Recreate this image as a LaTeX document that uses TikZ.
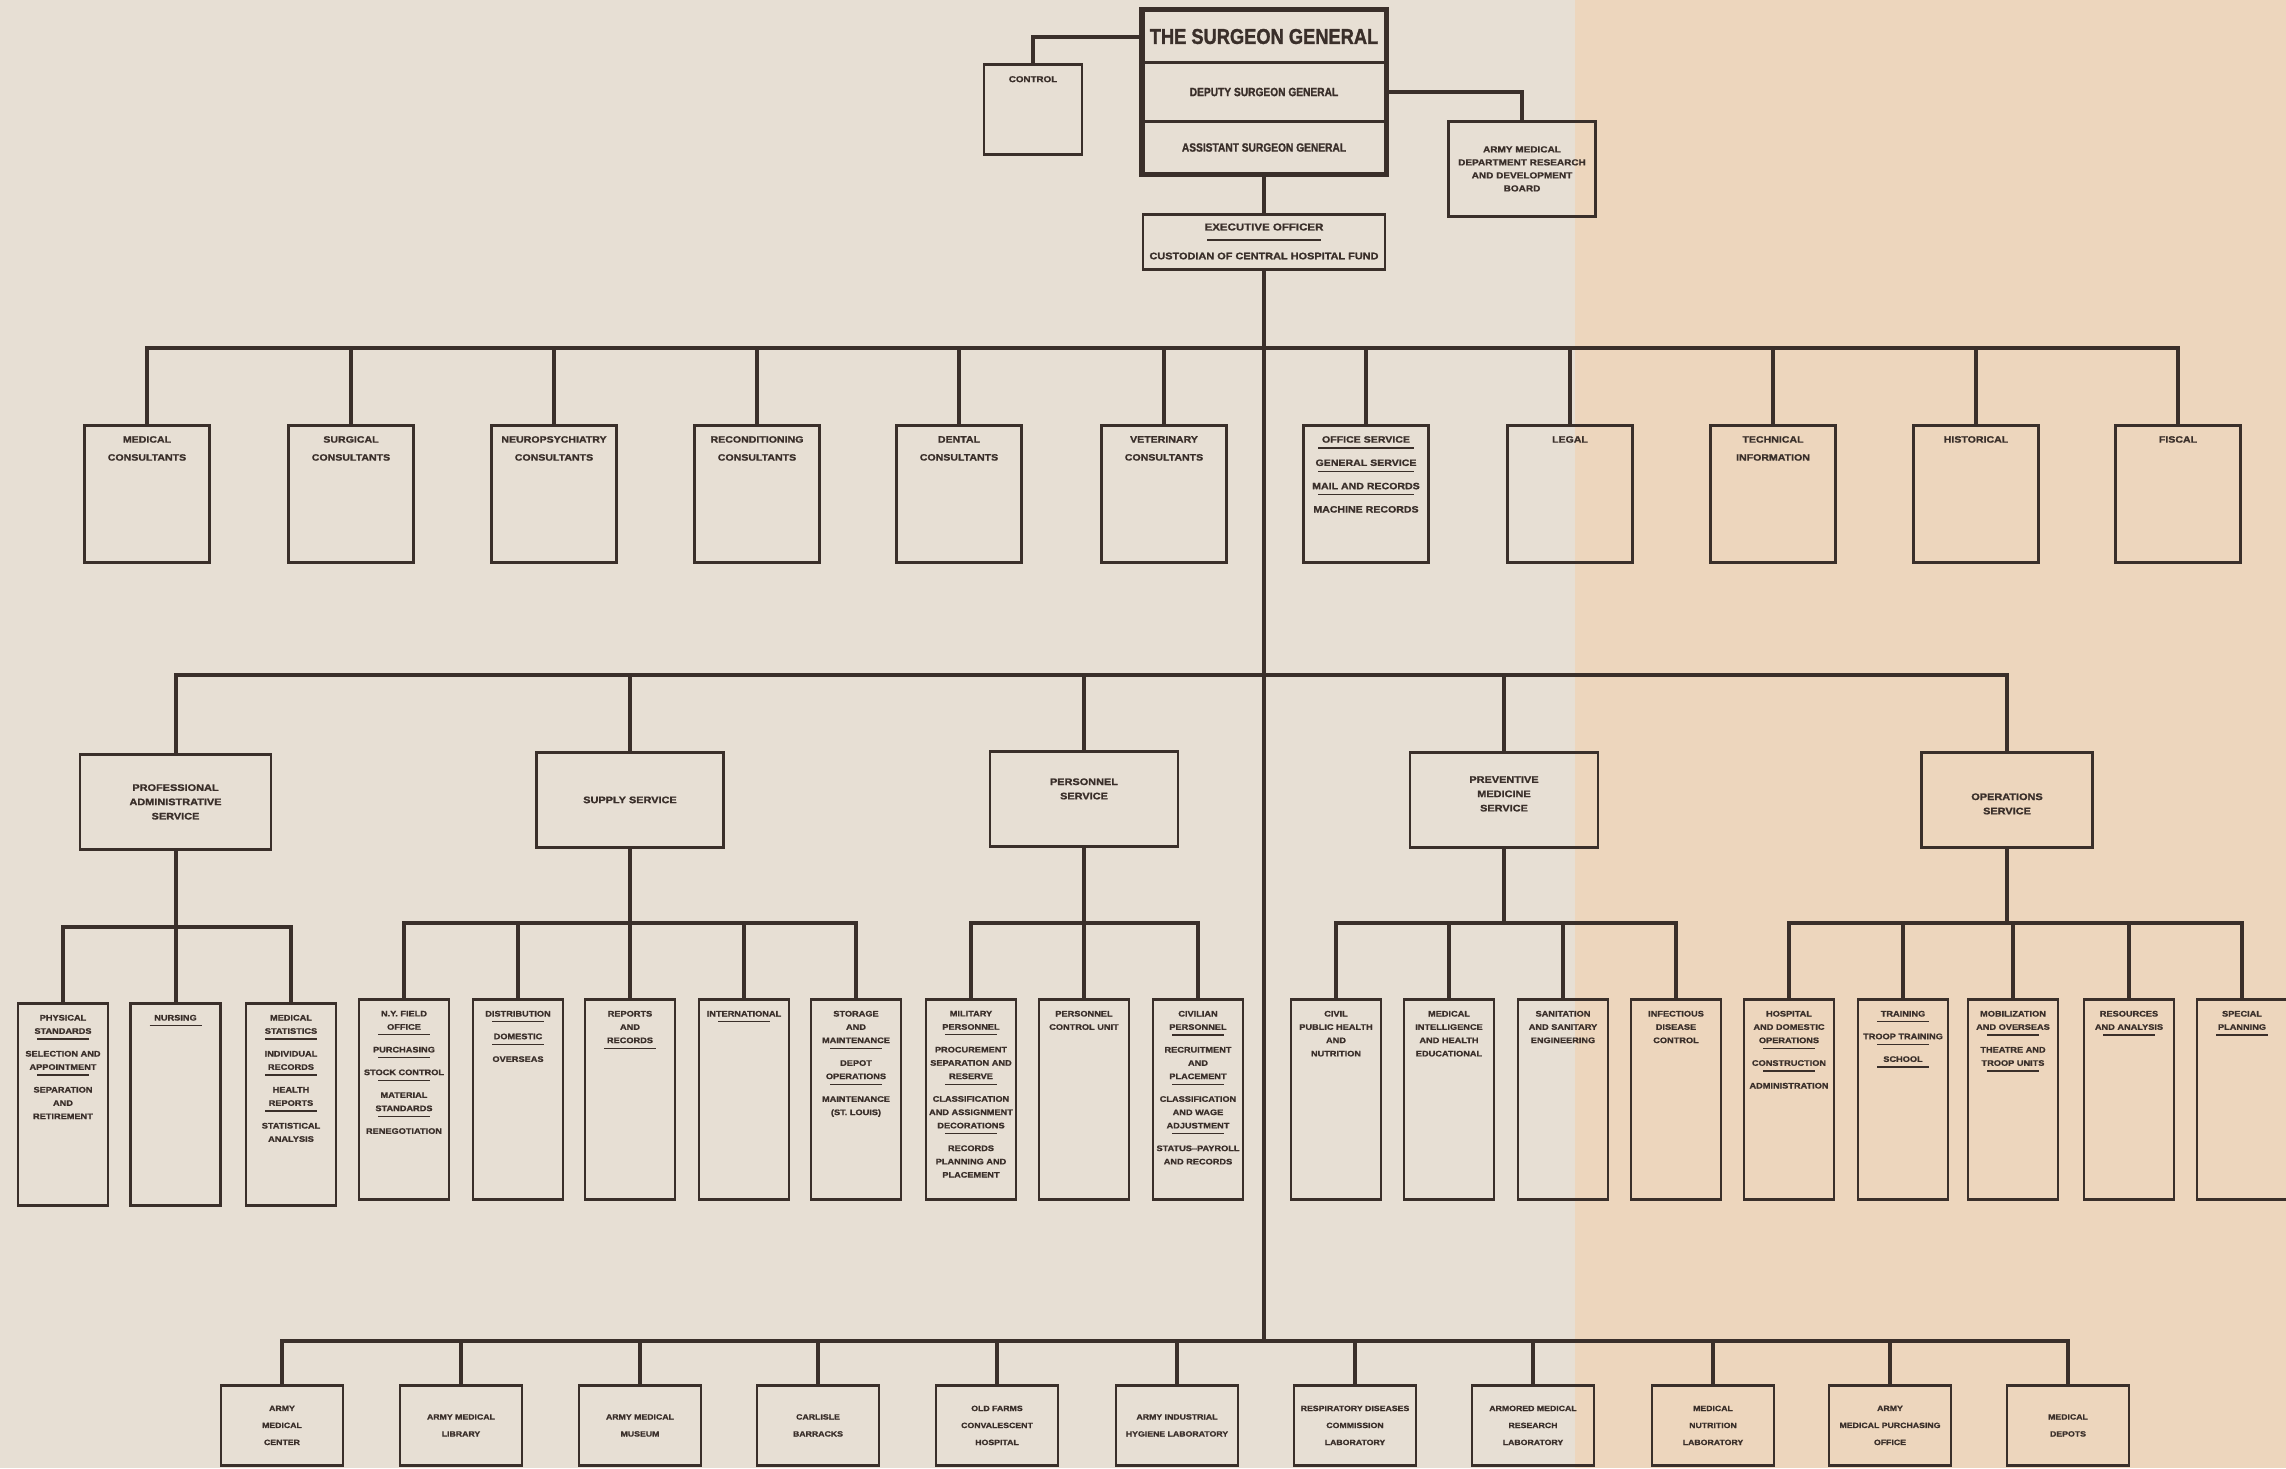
\documentclass[tikz,border=0pt]{standalone}
\usepackage{fontspec}
\setmainfont{Liberation Sans}[FakeStretch=1.15, BoldFeatures={FakeBold=1.3}]
\newfontfamily\condf{Liberation Sans}[FakeStretch=0.85, BoldFeatures={FakeBold=1.3}]
\definecolor{paperL}{HTML}{E7DFD4}
\definecolor{paperR}{HTML}{EDD6BD}
\definecolor{ink}{HTML}{3A2F2A}
\newcommand\rowsep{\\[-7.6pt]\rule{52pt}{1.2pt}\\[3.7pt]}
\newcommand\rowend{\\[-7.6pt]\rule{52pt}{1.2pt}}
\newcommand\offsep{\\[-12pt]\rule{96pt}{1.2pt}\\[-0.7pt]}
\tikzset{
  conn/.style={draw=ink, line width=4pt, line cap=rect},
  bx/.style={draw=ink, line width=2.8pt, inner sep=0pt, anchor=north},
  sgpart/.style={bx, line width=3pt, minimum width=242pt},
  rA/.style={bx, minimum width=125pt, minimum height=137pt},
  rB/.style={bx, minimum height=95pt},
  rC/.style={bx, minimum width=90pt, minimum height=200pt},
  rD/.style={bx, minimum width=122pt, minimum height=80pt, align=center, text=ink,
             font=\bfseries\fontsize{7.6}{17}\selectfont},
  txt/.style={inner sep=0pt, align=center, text=ink},
  tA/.style={txt, anchor=north, yshift=-12pt, font=\bfseries\fontsize{9.2}{18}\selectfont},
  tB/.style={txt, font=\bfseries\fontsize{9.5}{14.3}\selectfont},
  tC/.style={txt, anchor=north, yshift=-12.7pt, font=\bfseries\fontsize{8}{13.3}\selectfont},
}
\begin{document}
\begin{tikzpicture}[x=1pt,y=-1pt]
\fill[paperL] (0,0) rectangle (2286,1468);
\fill[paperR] (1575,0) rectangle (2286,1468);
\useasboundingbox (0,0) rectangle (2286,1468);

% ---------- top ----------
\node[sgpart, minimum height=52pt] (sgt) at (1264,9) {};
\node[sgpart, minimum height=59pt] (dep) at (1264,61) {};
\node[sgpart, minimum height=52pt] (asst) at (1264,120) {};
\draw[ink, line width=4.5pt] (sgt.north west) rectangle (asst.south east);
\node[txt, font=\condf\bfseries\fontsize{21.5}{24}\selectfont] (sgtt) at (sgt.center) {THE SURGEON GENERAL};
\node[txt, font=\condf\bfseries\fontsize{12}{14}\selectfont] (dept) at (dep.center) {DEPUTY SURGEON GENERAL};
\node[txt, font=\condf\bfseries\fontsize{12}{14}\selectfont] (asstt) at (asst.center) {ASSISTANT SURGEON GENERAL};

\node[bx, minimum width=98pt, minimum height=90pt] (ctrl) at (1033,63) {};
\node[txt, anchor=north, yshift=-13pt, font=\bfseries\fontsize{8.5}{12}\selectfont] (ctrlt) at (ctrl.north) {CONTROL};

\node[bx, minimum width=147pt, minimum height=95pt, align=center, text=ink,
      font=\bfseries\fontsize{8.7}{13}\selectfont] (board) at (1522,120)
      {ARMY MEDICAL\\DEPARTMENT RESEARCH\\AND DEVELOPMENT\\BOARD};

\node[bx, minimum width=242pt, minimum height=55pt] (eo) at (1264,213) {};
\node[txt, font=\bfseries\fontsize{10}{12}\selectfont] (eot) at (1264,227) {EXECUTIVE OFFICER};
\draw[ink, line width=1.3pt] (1207,240) -- (1321,240);
\node[txt, font=\bfseries\fontsize{9.5}{12}\selectfont] (eoc) at (1264,256) {CUSTODIAN OF CENTRAL HOSPITAL FUND};

\draw[conn, line cap=butt] (sgt.west) -| (ctrl.north);
\draw[conn, line cap=butt] (dep.east) -| (board.north);

\coordinate (b1) at (1264,348);
\coordinate (b2) at (1264,675);
\coordinate (b3) at (1264,1341);
\draw[conn, line cap=butt] (asst.south) -- (eo.north);
\draw[conn] (eo.south) -- (b3);

% ---------- row 1 ----------
\foreach \n/\x/\t in {
  r1/147/{MEDICAL\\CONSULTANTS},
  r2/351/{SURGICAL\\CONSULTANTS},
  r3/554/{NEUROPSYCHIATRY\\CONSULTANTS},
  r4/757/{RECONDITIONING\\CONSULTANTS},
  r5/959/{DENTAL\\CONSULTANTS},
  r6/1164/{VETERINARY\\CONSULTANTS},
  r7/1366/{OFFICE SERVICE\offsep GENERAL SERVICE\offsep MAIL AND RECORDS\offsep MACHINE RECORDS},
  r8/1570/{LEGAL},
  r9/1773/{TECHNICAL\\INFORMATION},
  r10/1976/{HISTORICAL},
  r11/2178/{FISCAL}}{
  \node[rA] (\n) at (\x,424) {};
  \node[tA] (\n-t) at (\n.north) {\t};
  \draw[conn] (\n.north) -- (\n.north |- b1);
}
\draw[conn] (r1.north |- b1) -- (r11.north |- b1);

% ---------- row 2 ----------
\node[rB, minimum width=191pt] (pas) at (175.5,753) {};
\node[tB] (pas-t) at (pas.center) {PROFESSIONAL\\ADMINISTRATIVE\\SERVICE};
\node[rB, minimum width=187pt] (sup) at (630,751) {};
\node[tB] (sup-t) at (sup.center) {SUPPLY SERVICE};
\node[rB, minimum width=188pt] (per) at (1084,750) {};
\node[tB, yshift=10pt] (per-t) at (per.center) {PERSONNEL\\SERVICE};
\node[rB, minimum width=188pt] (pm) at (1504,751) {};
\node[tB, yshift=6pt] (pm-t) at (pm.center) {PREVENTIVE\\MEDICINE\\SERVICE};
\node[rB, minimum width=171pt] (ops) at (2007,751) {};
\node[tB, yshift=-4pt] (ops-t) at (ops.center) {OPERATIONS\\SERVICE};
\foreach \n in {pas,sup,per,pm,ops}{
  \draw[conn] (\n.north) -- (\n.north |- b2);
}
\draw[conn] (pas.north |- b2) -- (ops.north |- b2);

% ---------- row 3 ----------
\coordinate (pb) at (0,927);
\coordinate (sb) at (0,923);
\foreach \n/\x/\t in {
  pa1/63/{PHYSICAL\\STANDARDS\rowsep SELECTION AND\\APPOINTMENT\rowsep SEPARATION\\AND\\RETIREMENT},
  pa2/175.5/{NURSING\rowend},
  pa3/291/{MEDICAL\\STATISTICS\rowsep INDIVIDUAL\\RECORDS\rowsep HEALTH\\REPORTS\rowsep STATISTICAL\\ANALYSIS}}{
  \node[rC, minimum height=202pt] (\n) at (\x,1002) {};
  \node[tC] (\n-t) at (\n.north) {\t};
  \draw[conn] (\n.north) -- (\n.north |- pb);
}
\draw[conn] (pa1.north |- pb) -- (pa3.north |- pb);
\draw[conn] (pas.south) -- (pas.south |- pb);

\foreach \n/\x/\t in {
  su1/404/{N.Y. FIELD\\OFFICE\rowsep PURCHASING\rowsep STOCK CONTROL\rowsep MATERIAL\\STANDARDS\rowsep RENEGOTIATION},
  su2/518/{DISTRIBUTION\rowsep DOMESTIC\rowsep OVERSEAS},
  su3/630/{REPORTS\\AND\\RECORDS\rowend},
  su4/744/{INTERNATIONAL\rowend},
  su5/856/{STORAGE\\AND\\MAINTENANCE\rowsep DEPOT\\OPERATIONS\rowsep MAINTENANCE\\(ST. LOUIS)},
  pe1/971/{MILITARY\\PERSONNEL\rowsep PROCUREMENT\\SEPARATION AND\\RESERVE\rowsep CLASSIFICATION\\AND ASSIGNMENT\\DECORATIONS\rowsep RECORDS\\PLANNING AND\\PLACEMENT},
  pe2/1084/{PERSONNEL\\CONTROL UNIT},
  pe3/1198/{CIVILIAN\\PERSONNEL\rowsep RECRUITMENT\\AND\\PLACEMENT\rowsep CLASSIFICATION\\AND WAGE\\ADJUSTMENT\rowsep STATUS--PAYROLL\\AND RECORDS},
  pm1/1336/{CIVIL\\PUBLIC HEALTH\\AND\\NUTRITION},
  pm2/1449/{MEDICAL\\INTELLIGENCE\\AND HEALTH\\EDUCATIONAL},
  pm3/1563/{SANITATION\\AND SANITARY\\ENGINEERING},
  pm4/1676/{INFECTIOUS\\DISEASE\\CONTROL},
  op1/1789/{HOSPITAL\\AND DOMESTIC\\OPERATIONS\rowsep CONSTRUCTION\rowsep ADMINISTRATION},
  op2/1903/{TRAINING\rowsep TROOP TRAINING\rowsep SCHOOL\rowend},
  op3/2013/{MOBILIZATION\\AND OVERSEAS\rowsep THEATRE AND\\TROOP UNITS\rowend},
  op4/2129/{RESOURCES\\AND ANALYSIS\rowend},
  op5/2242/{SPECIAL\\PLANNING\rowend}}{
  \node[rC] (\n) at (\x,998) {};
  \node[tC] (\n-t) at (\n.north) {\t};
  \draw[conn] (\n.north) -- (\n.north |- sb);
}
\draw[conn] (su1.north |- sb) -- (su5.north |- sb);
\draw[conn] (pe1.north |- sb) -- (pe3.north |- sb);
\draw[conn] (pm1.north |- sb) -- (pm4.north |- sb);
\draw[conn] (op1.north |- sb) -- (op5.north |- sb);
\foreach \n in {sup,per,pm,ops}{
  \draw[conn] (\n.south) -- (\n.south |- sb);
}

% ---------- bottom ----------
\foreach \n/\x/\t in {
  m1/282/{ARMY\\MEDICAL\\CENTER},
  m2/461/{ARMY MEDICAL\\LIBRARY},
  m3/640/{ARMY MEDICAL\\MUSEUM},
  m4/818/{CARLISLE\\BARRACKS},
  m5/997/{OLD FARMS\\CONVALESCENT\\HOSPITAL},
  m6/1177/{ARMY INDUSTRIAL\\HYGIENE LABORATORY},
  m7/1355/{RESPIRATORY DISEASES\\COMMISSION\\LABORATORY},
  m8/1533/{ARMORED MEDICAL\\RESEARCH\\LABORATORY},
  m9/1713/{MEDICAL\\NUTRITION\\LABORATORY},
  m10/1890/{ARMY\\MEDICAL PURCHASING\\OFFICE},
  m11/2068/{MEDICAL\\DEPOTS}}{
  \node[rD] (\n) at (\x,1384) {\t};
  \draw[conn] (\n.north) -- (\n.north |- b3);
}
\draw[conn] (m1.north |- b3) -- (m11.north |- b3);
\end{tikzpicture}
\end{document}
